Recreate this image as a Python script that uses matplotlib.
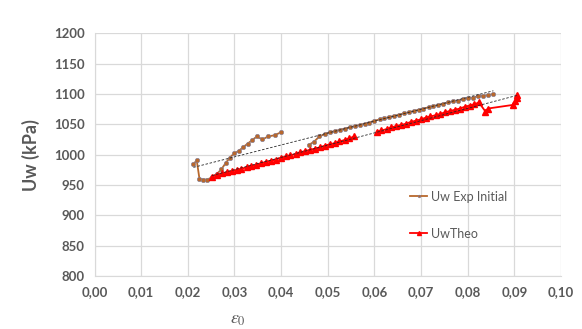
import numpy as np
import matplotlib.pyplot as plt

plt.rcParams['font.family'] = ['Lato', 'DejaVu Sans']
plt.rcParams['mathtext.fontset'] = 'stix'

# Uw Exp Initial (two runs, gap between them)
exp_x1 = [0.0212, 0.0219, 0.0225, 0.0233, 0.0242, 0.0252, 0.0262, 0.0272, 0.0281, 0.0290,
          0.0299, 0.0309, 0.0318, 0.0328, 0.0338, 0.0348, 0.0360, 0.0372, 0.0386, 0.0400]
exp_y1 = [984, 991, 960, 959, 959, 963, 968, 976, 986, 995,
          1002, 1006, 1012, 1018, 1024, 1030, 1025, 1030, 1032, 1037]
exp_x2 = [0.0459, 0.0470, 0.0482, 0.0494, 0.0505, 0.0516, 0.0526, 0.0537, 0.0547, 0.0558,
          0.0568, 0.0579, 0.0589, 0.0600, 0.0611, 0.0621, 0.0632, 0.0642, 0.0653, 0.0663,
          0.0674, 0.0684, 0.0695, 0.0705, 0.0716, 0.0726, 0.0737, 0.0747, 0.0758, 0.0768,
          0.0779, 0.0790, 0.0800, 0.0811, 0.0821, 0.0832, 0.0843, 0.0855]
exp_y2 = [1016, 1021, 1030, 1034, 1037, 1039, 1041, 1043, 1045, 1047,
          1049, 1051, 1053, 1056, 1058, 1060, 1062, 1064, 1066, 1068,
          1070, 1072, 1074, 1076, 1078, 1080, 1082, 1084, 1086, 1088,
          1089, 1091, 1093, 1094, 1096, 1097, 1098, 1100]

# UwTheo
theo_x1 = [0.0252, 0.0262, 0.0273, 0.0284, 0.0294, 0.0305, 0.0315, 0.0326, 0.0336, 0.0347,
           0.0357, 0.0368, 0.0378, 0.0389, 0.0399, 0.0410, 0.0420, 0.0431, 0.0441, 0.0452,
           0.0462, 0.0473, 0.0483, 0.0494, 0.0504, 0.0515, 0.0525, 0.0536, 0.0546, 0.0557]
theo_y1 = [964, 967, 969, 971, 973, 975, 977, 979, 981, 983,
           986, 988, 990, 992, 995, 997, 999, 1001, 1004, 1006,
           1008, 1010, 1012, 1015, 1017, 1019, 1022, 1024, 1027, 1030]
theo_x2 = [0.0605, 0.0615, 0.0626, 0.0636, 0.0647, 0.0657, 0.0668, 0.0678, 0.0689, 0.0699,
           0.0710, 0.0720, 0.0731, 0.0741, 0.0752, 0.0762, 0.0773, 0.0783, 0.0794, 0.0804,
           0.0814, 0.0824, 0.0838, 0.0843, 0.0897, 0.0902, 0.0905, 0.0906]
theo_y2 = [1038, 1040, 1042, 1045, 1047, 1049, 1051, 1054, 1056, 1058,
           1061, 1063, 1065, 1067, 1070, 1072, 1074, 1076, 1079, 1081,
           1083, 1086, 1071, 1076, 1082, 1089, 1094, 1099]

x_ticks = np.arange(0, 0.1001, 0.01)
y_ticks = np.arange(800, 1201, 50)

exp_x = np.array(exp_x1 + [np.nan] + exp_x2)
exp_y = np.array(exp_y1 + [np.nan] + exp_y2)
theo_x = np.array(theo_x1 + [np.nan] + theo_x2)
theo_y = np.array(theo_y1 + [np.nan] + theo_y2)

grey = '#595959'
brown = '#B8682C'
red = '#FF0000'

fig = plt.figure(figsize=(5.82, 3.29), dpi=100)
ax = fig.add_axes([0.1624, 0.161, 0.8016, 0.7378])

ax.plot(exp_x, exp_y, color=brown, lw=1.3, marker='o', ms=3.2,
        mfc=brown, mec='#7F7F9F', mew=0.4, label='Uw Exp Initial', zorder=3)
ax.plot(theo_x, theo_y, color=red, lw=1.3, marker='^', ms=4.8,
        mfc=red, mec=red, label='UwTheo', zorder=3)

# linear trendlines
for xs, ys in ((exp_x, exp_y), (theo_x, theo_y)):
    ok = ~np.isnan(xs)
    k, b = np.polyfit(xs[ok], ys[ok], 1)
    xx = np.array([np.nanmin(xs), np.nanmax(xs)])
    ax.plot(xx, k * xx + b, color='#262626', lw=0.6, ls=(0, (3, 2)), zorder=4)

ax.set_xlim(0, 0.1)
ax.set_ylim(800, 1200)
ax.set_xticks(x_ticks)
ax.set_yticks(y_ticks)
ax.set_xticklabels([f'{v:.2f}'.replace('.', ',') for v in x_ticks])
ax.set_yticklabels([str(int(v)) for v in y_ticks])
ax.tick_params(length=0, labelsize=9.5, labelcolor=grey, pad=7)
for lab in ax.get_xticklabels() + ax.get_yticklabels():
    lab.set_fontweight('bold')
ax.grid(color='#D9D9D9', lw=0.9)
ax.set_axisbelow(True)
for s in ('top', 'right'):
    ax.spines[s].set_visible(False)
for s in ('left', 'bottom'):
    ax.spines[s].set_color('#D9D9D9')

ax.set_ylabel('Uw (kPa)', fontsize=13, fontweight='bold', color=grey, labelpad=10)
ax.set_xlabel(r'$\varepsilon_0$', fontsize=13, color=grey)
ax.xaxis.set_label_coords((238 - 94.5) / 466.5, -0.15)

ax.legend(loc='upper left', bbox_to_anchor=(0.685, 0.455), bbox_transform=fig.transFigure,
          frameon=False, fontsize=9, labelcolor=grey, handlelength=1.4,
          labelspacing=2.0, handletextpad=0.3, markerscale=0.6)

fig.savefig('out.png', dpi=100)
